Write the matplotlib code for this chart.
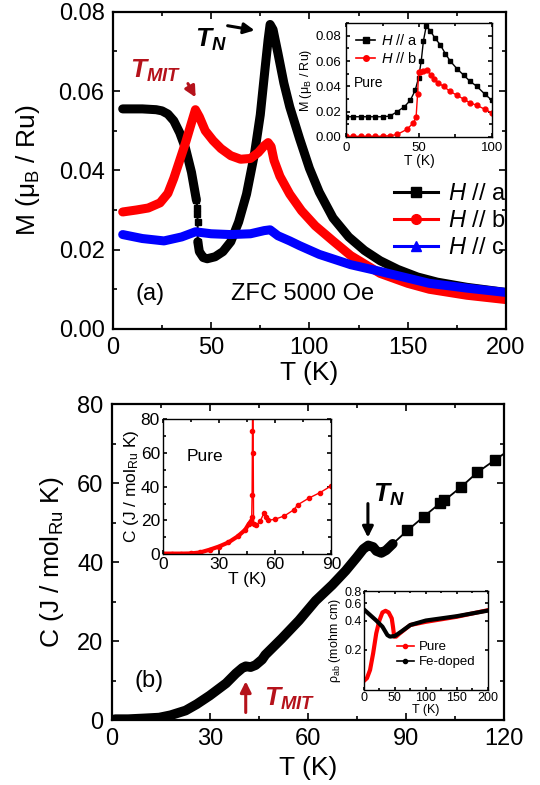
import numpy as np
import matplotlib
matplotlib.use('Agg')
import matplotlib.pyplot as plt
from matplotlib.lines import Line2D
from matplotlib.ticker import MultipleLocator, FormatStrFormatter, NullLocator

plt.rcParams['font.family'] = ['Liberation Sans', 'DejaVu Sans']
plt.rcParams['mathtext.fontset'] = 'custom'
plt.rcParams['mathtext.rm'] = 'Liberation Sans'
plt.rcParams['mathtext.it'] = 'Liberation Sans:italic'
plt.rcParams['mathtext.bf'] = 'Liberation Sans:bold'
plt.rcParams['mathtext.bfit'] = 'Liberation Sans:italic:bold'

# ---- panel (a): M vs T, ZFC 5000 Oe ----
Ta = [5, 15, 22, 25, 28, 31, 34, 37, 40, 42.5]
Ma = [0.0555, 0.0555, 0.0553, 0.055, 0.0542, 0.0525, 0.0495, 0.0455, 0.0395, 0.0325]
Ta_jump = [42.5, 43, 43, 43.1, 43.2]
Ma_jump = [0.0325, 0.0305, 0.029, 0.027, 0.022]
Ta2 = [43.2, 44, 46, 48, 52, 56, 60, 64, 68, 72, 75, 77.5, 79, 80, 81.5, 84, 87,
       90, 95, 100, 105, 112, 120, 128, 136, 145, 155, 165, 180, 200]
Ma2 = [0.022, 0.0195, 0.018, 0.0177, 0.0182, 0.0195, 0.022, 0.027, 0.034, 0.044,
       0.054, 0.066, 0.073, 0.0768, 0.0755, 0.0695, 0.062, 0.056, 0.048, 0.0405,
       0.0345, 0.028, 0.0232, 0.0198, 0.0172, 0.015, 0.0131, 0.0118, 0.0105, 0.0092]

Tb = [5, 12, 18, 24, 28, 31, 34, 37, 40, 42, 44, 47, 51, 55, 60, 65, 70, 74, 77,
      79, 80.5, 82, 85, 90, 96, 103, 112, 121, 136, 150, 161, 180, 200]
Mb = [0.0295, 0.030, 0.0305, 0.0318, 0.0342, 0.038, 0.0425, 0.047, 0.052, 0.0553,
      0.0535, 0.050, 0.0475, 0.0455, 0.0437, 0.0428, 0.043, 0.0445, 0.0462, 0.047,
      0.046, 0.0425, 0.0385, 0.034, 0.0298, 0.026, 0.0222, 0.0185, 0.014, 0.0115,
      0.010, 0.0085, 0.0074]

Tc = [5, 15, 26, 35, 42, 50, 60, 70, 77, 80, 84, 90, 95, 105, 121, 136, 161, 180, 200]
Mc = [0.0238, 0.0228, 0.0222, 0.0232, 0.0245, 0.024, 0.0238, 0.024, 0.0248, 0.025,
      0.0235, 0.0222, 0.021, 0.0188, 0.0162, 0.0145, 0.0115, 0.0103, 0.0092]

# inset (a): pure sample
Tpa = [0, 5, 10, 15, 20, 25, 30, 35, 40, 44, 47.4, 49.7, 51.5, 53, 55, 57.7, 61,
       64.5, 68, 71.4, 76, 80.5, 85, 89.7, 95, 100]
Mpa = [0.016, 0.016, 0.016, 0.016, 0.016, 0.016, 0.0165, 0.020, 0.024, 0.029,
       0.037, 0.047, 0.060, 0.076, 0.088, 0.084, 0.078, 0.073, 0.066, 0.060, 0.054,
       0.049, 0.044, 0.040, 0.034, 0.029]
Tpb = [0, 5, 10, 15, 20, 25, 30, 35, 41.6, 46, 48, 49, 49.7, 50.8, 53, 55.4, 58,
       60, 63, 66.8, 71.4, 76, 80.5, 85, 89.7, 95, 100]
Mpb = [0.0005, 0.0005, 0.0005, 0.0005, 0.0005, 0.0006, 0.001, 0.002, 0.006, 0.011,
       0.016, 0.034, 0.051, 0.051, 0.052, 0.053, 0.049, 0.046, 0.043, 0.040, 0.036,
       0.033, 0.030, 0.027, 0.025, 0.022, 0.019]

# ---- panel (b): C vs T ----
TC = [1, 5, 10, 14.5, 18, 22.6, 26, 30, 35, 38, 40, 41, 42.5, 44, 46, 47, 52,
      57.3, 62.4, 67.5, 71.6, 75, 77, 78.5, 80, 81, 82.5, 84, 86]
CC = [0.2, 0.2, 0.4, 0.6, 1.2, 2.4, 4, 6.2, 9.3, 11.8, 13.2, 13.6, 13.4, 13.9,
      15.3, 16.5, 20.6, 25.2, 30.2, 34.2, 37.8, 41.2, 43.3, 44.2, 43.8, 42.8, 42.3,
      43, 44.6]
TC2 = [86, 90.5, 95.5, 100.5, 101.8, 106.8, 111.9, 117.4, 120]
CC2 = [44.6, 48, 51.5, 54.9, 55.6, 58.9, 62.7, 65.9, 67.4]

# inset (b1): pure C
TCp = [0, 5, 10, 15, 20, 25, 30, 35, 40, 44, 46, 47, 47.5, 47.7, 47.9, 48.0,
       48.3, 48.5, 50, 52, 54, 55, 56, 60, 65, 70, 72, 78, 84, 90]
CCp = [0.3, 0.3, 0.3, 0.4, 1, 2.6, 4.5, 6.9, 10.5, 14.4, 18, 19.4, 22.3, 35, 73,
       110, 60, 18, 17.4, 19.4, 24.3, 22.3, 20, 20.7, 22.7, 26.3, 29.2, 33.2, 36.5, 40.5]

# inset (b2): resistivity
Tr_pure = [2, 5, 10, 15, 20, 25, 30, 35, 40, 45, 47, 49, 52, 58, 75, 100, 150, 200]
R_pure = [0.099, 0.103, 0.125, 0.185, 0.296, 0.40, 0.484, 0.503, 0.484, 0.421,
          0.346, 0.274, 0.274, 0.296, 0.36, 0.388, 0.437, 0.51]
Tr_fe = [0, 10, 20, 30, 38, 42, 50, 60, 75, 100, 150, 200]
R_fe = [0.52, 0.456, 0.40, 0.346, 0.284, 0.274, 0.278, 0.307, 0.36, 0.40, 0.443, 0.505]

MIT_RED = '#b5121b'


def style_axes(ax, size, pad=3.5):
    ax.tick_params(which='both', direction='in', top=True, right=True,
                   labelsize=size, width=1.2, pad=pad)
    ax.tick_params(which='major', length=5)
    ax.tick_params(which='minor', length=3)
    for s in ax.spines.values():
        s.set_linewidth(1.6)


def thick(ax, x, y, c, lw=6.5):
    ax.plot(x, y, color=c, lw=lw, solid_capstyle='round', solid_joinstyle='round')


fig = plt.figure(figsize=(5.4, 7.85), dpi=100)

# ================= top panel =================
ax1 = fig.add_axes([0.209, 0.581, 0.728, 0.404])
thick(ax1, Ta, Ma, 'black')
ax1.plot(Ta_jump, Ma_jump, color='black', lw=1.5, marker='s', ms=4)
thick(ax1, Ta2, Ma2, 'black')
thick(ax1, Tb, Mb, 'red')
thick(ax1, Tc, Mc, 'blue')
ax1.set_xlim(0, 200)
ax1.set_ylim(0, 0.08)
ax1.xaxis.set_major_locator(MultipleLocator(50))
ax1.xaxis.set_minor_locator(MultipleLocator(25))
ax1.yaxis.set_major_locator(MultipleLocator(0.02))
ax1.yaxis.set_minor_locator(MultipleLocator(0.01))
ax1.yaxis.set_major_formatter(FormatStrFormatter('%.2f'))
style_axes(ax1, 17, pad=6)
ax1.set_xlabel('T (K)', fontsize=19, labelpad=1)
ax1.set_ylabel(r'M ($\mathregular{\mu_B}$ / Ru)', fontsize=19, labelpad=12)

handles = [Line2D([], [], color='black', lw=2.2, marker='s', ms=7),
           Line2D([], [], color='red', lw=2.2, marker='o', ms=7),
           Line2D([], [], color='blue', lw=2.2, marker='^', ms=7)]
ax1.legend(handles, [r'$\mathit{H}$ // a', r'$\mathit{H}$ // b', r'$\mathit{H}$ // c'],
           loc='center left', bbox_to_anchor=(0.66, 0.34), frameon=False,
           fontsize=17, handlelength=1.9, handletextpad=0.4, labelspacing=0.22)

ax1.text(50, 0.073, r'$\mathbfit{T}_{\mathbfit{N}}$', fontsize=19, ha='center', va='center')
ax1.annotate('', xy=(73.5, 0.0752), xytext=(57, 0.0766),
             arrowprops=dict(arrowstyle='-|>', color='black', lw=2.2, mutation_scale=16))
ax1.text(22, 0.065, r'$\mathbfit{T}_{\mathbfit{MIT}}$', fontsize=19, ha='center',
         va='center', color=MIT_RED)
ax1.annotate('', xy=(42.8, 0.0578), xytext=(37.5, 0.0625),
             arrowprops=dict(arrowstyle='-|>', color=MIT_RED, lw=2.2, mutation_scale=16))
ax1.text(19, 0.0088, '(a)', fontsize=17, ha='center', va='center')
ax1.text(60, 0.0088, 'ZFC 5000 Oe', fontsize=17, ha='left', va='center')

# inset top
axi = fig.add_axes([0.641, 0.8255, 0.270, 0.145])
axi.plot(Tpa, Mpa, color='black', lw=1, marker='s', ms=3.5)
axi.plot(Tpb, Mpb, color='red', lw=1, marker='o', ms=3.5)
axi.set_xlim(0, 100)
axi.set_ylim(0, 0.09)
axi.xaxis.set_major_locator(MultipleLocator(50))
axi.xaxis.set_minor_locator(MultipleLocator(25))
axi.yaxis.set_major_locator(MultipleLocator(0.02))
axi.yaxis.set_minor_locator(MultipleLocator(0.01))
axi.yaxis.set_major_formatter(FormatStrFormatter('%.2f'))
style_axes(axi, 9.5)
for s in axi.spines.values():
    s.set_linewidth(1.0)
axi.tick_params(which='major', length=3)
axi.tick_params(which='minor', length=2)
axi.set_xlabel('T (K)', fontsize=10, labelpad=0)
axi.set_ylabel(r'M ($\mathregular{\mu_B}$ / Ru)', fontsize=9, labelpad=1)
h_in = [Line2D([], [], color='black', lw=1.2, marker='s', ms=4),
        Line2D([], [], color='red', lw=1.2, marker='o', ms=4)]
axi.legend(h_in, [r'$\mathit{H}$ // a', r'$\mathit{H}$ // b'], loc='upper left',
           frameon=False, fontsize=10.5, handlelength=1.3, handletextpad=0.4,
           labelspacing=0.2, borderaxespad=0.3)
axi.text(5, 0.043, 'Pure', fontsize=10, ha='left', va='center')

# ================= bottom panel =================
ax2 = fig.add_axes([0.207, 0.0828, 0.726, 0.4025])
thick(ax2, TC, CC, 'black', lw=7)
ax2.plot(TC2, CC2, color='black', lw=1.3, marker='s', ms=6.5, markevery=list(range(1, 8)))
ax2.set_xlim(0, 120)
ax2.set_ylim(0, 80)
ax2.xaxis.set_major_locator(MultipleLocator(30))
ax2.xaxis.set_minor_locator(MultipleLocator(15))
ax2.yaxis.set_major_locator(MultipleLocator(20))
ax2.yaxis.set_minor_locator(MultipleLocator(10))
style_axes(ax2, 17, pad=6)
ax2.set_xlabel('T (K)', fontsize=19, labelpad=4)
ax2.set_ylabel(r'C (J / mol$_{\mathregular{Ru}}$ K)', fontsize=19, labelpad=8)

ax2.text(85, 57, r'$\mathbfit{T}_{\mathbfit{N}}$', fontsize=19, ha='center', va='center')
ax2.annotate('', xy=(78.4, 45.5), xytext=(78.4, 55.5),
             arrowprops=dict(arrowstyle='-|>', color='black', lw=2.2, mutation_scale=16))
ax2.text(54.5, 5.4, r'$\mathbfit{T}_{\mathbfit{MIT}}$', fontsize=19, ha='center',
         va='center', color=MIT_RED)
ax2.annotate('', xy=(41, 10.5), xytext=(41, 1.2),
             arrowprops=dict(arrowstyle='-|>', color=MIT_RED, lw=2.2, mutation_scale=16))
ax2.text(11.5, 10, '(b)', fontsize=17, ha='center', va='center')

# inset: pure C
axc = ax2.inset_axes([0.13, 0.525, 0.43, 0.427])
axc.plot(TCp, CCp, color='red', lw=1, marker='o', ms=3)
axc.plot(TCp[:12], CCp[:12], color='red', lw=3)
axc.set_xlim(0, 90)
axc.set_ylim(0, 80)
axc.xaxis.set_major_locator(MultipleLocator(30))
axc.xaxis.set_minor_locator(MultipleLocator(15))
axc.yaxis.set_major_locator(MultipleLocator(20))
axc.yaxis.set_minor_locator(MultipleLocator(10))
style_axes(axc, 12.5, pad=2)
for s in axc.spines.values():
    s.set_linewidth(1.0)
axc.tick_params(which='major', length=3)
axc.tick_params(which='minor', length=2)
axc.set_xlabel('T (K)', fontsize=12.5, labelpad=0)
axc.set_ylabel(r'C (J / mol$_{\mathregular{Ru}}$ K)', fontsize=12.5, labelpad=0)
axc.text(13, 58, 'Pure', fontsize=12.5, ha='left', va='center')

# inset: resistivity
axr = ax2.inset_axes([0.643, 0.095, 0.316, 0.313])
axr.plot(Tr_pure, R_pure, color='red', lw=3)
axr.plot(Tr_fe, R_fe, color='black', lw=3)
axr.set_yscale('log')
axr.set_xlim(0, 200)
axr.set_ylim(0.078, 0.8)
axr.set_yticks([0.2, 0.4, 0.6, 0.8])
axr.set_yticklabels(['0.2', '0.4', '0.6', '0.8'])
axr.yaxis.set_minor_locator(NullLocator())
axr.xaxis.set_major_locator(MultipleLocator(50))
axr.xaxis.set_minor_locator(MultipleLocator(25))
style_axes(axr, 9)
for s in axr.spines.values():
    s.set_linewidth(1.0)
axr.tick_params(which='major', length=2.5, pad=1.5)
axr.tick_params(which='minor', length=1.5)
axr.set_xlabel('T (K)', fontsize=9, labelpad=0)
axr.set_ylabel(r'$\mathregular{\rho_{ab}}$ (mohm cm)', fontsize=9, labelpad=1)
h_r = [Line2D([], [], color='red', lw=1.2, marker='o', ms=3),
       Line2D([], [], color='black', lw=1.2, marker='o', ms=3)]
axr.legend(h_r, ['Pure', 'Fe-doped'], loc='lower right', bbox_to_anchor=(1.0, 0.10),
           frameon=False, fontsize=9.5, handlelength=1.3, handletextpad=0.4,
           labelspacing=0.2)

fig.savefig('out.png', dpi=100)
